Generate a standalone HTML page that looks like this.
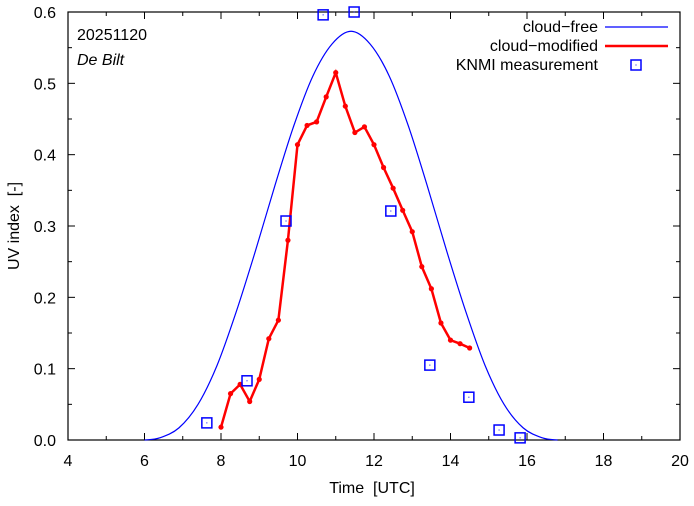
<!DOCTYPE html>
<html><head><meta charset="utf-8"><style>
body{margin:0;background:#fff}
svg text{font-family:"Liberation Sans",sans-serif;font-size:16px;fill:#000;white-space:pre}
</style></head><body>
<svg id="chart" width="694" height="501" viewBox="0 0 694 501" xmlns="http://www.w3.org/2000/svg">
<rect x="68" y="12" width="612" height="428" fill="none" stroke="#000" stroke-width="1.2"/>
<g id="ticks"></g>
<text x="372" y="493" text-anchor="middle">Time  [UTC]</text>
<text transform="translate(19,226) rotate(-90)" text-anchor="middle">UV index  [-]</text>
<text x="77" y="40">20251120</text>
<text x="77" y="65" font-style="italic">De Bilt</text>
<g>
<g><text x="598" y="32" text-anchor="end">cloud−free</text><line x1="605" y1="27" x2="668" y2="27" stroke="#0000ff" stroke-width="1.2"/></g>
<g><text x="598" y="51" text-anchor="end">cloud−modified</text><line x1="605" y1="46" x2="668" y2="46" stroke="#ff0000" stroke-width="2.5"/></g>
<g><text x="598" y="70" text-anchor="end">KNMI measurement</text><rect x="631" y="60" width="10" height="10" fill="none" stroke="#0000ff" stroke-width="1.5"/><rect x="635.5" y="64.5" width="1" height="1" fill="#0000ff"/></g>
</g>
<g id="series"></g>
</svg>
<script>
const clearTimes=[6.0,6.4,6.9,7.4,7.9,8.4,8.9,9.4,9.9,10.4,10.9,11.4,11.9,12.4,12.9,13.4,13.9,14.4,14.9,15.4,15.9,16.4,16.8];
const clearValues=[0,0.003,0.017,0.05,0.105,0.18,0.265,0.355,0.44,0.51,0.555,0.573,0.555,0.51,0.44,0.355,0.265,0.18,0.105,0.05,0.017,0.003,0];
const cloudTimes=[8.0,8.25,8.5,8.75,9.0,9.25,9.5,9.75,10.0,10.25,10.5,10.75,11.0,11.25,11.5,11.75,12.0,12.25,12.5,12.75,13.0,13.25,13.5,13.75,14.0,14.25,14.5];
const cloudValues=[0.018,0.065,0.078,0.054,0.085,0.142,0.168,0.28,0.414,0.441,0.446,0.481,0.515,0.468,0.431,0.439,0.414,0.382,0.353,0.322,0.292,0.243,0.212,0.164,0.14,0.135,0.129];
const measTimes=[7.63,8.68,9.70,10.67,11.48,12.44,13.46,14.48,15.27,15.82];
const measValues=[0.024,0.083,0.307,0.596,0.6,0.321,0.105,0.06,0.014,0.003];
const xTicks=[4,6,8,10,12,14,16,18,20];
const yTicks=[0.0,0.1,0.2,0.3,0.4,0.5,0.6];
const NS="http://www.w3.org/2000/svg";
const X=t=>68+(t-4)*612/16, Y=v=>440-v*428/0.6;
function mk(tag,attrs,parent){const e=document.createElementNS(NS,tag);for(const k in attrs)e.setAttribute(k,attrs[k]);parent.appendChild(e);return e;}
const tg=document.getElementById('ticks'), sg=document.getElementById('series');
for(let t=4;t<=20;t+=1){const major=t%2===0,L=major?7:4;
 mk('line',{x1:X(t),x2:X(t),y1:440,y2:440-L,stroke:'#000'},tg);
 mk('line',{x1:X(t),x2:X(t),y1:12,y2:12+L,stroke:'#000'},tg);}
xTicks.forEach(t=>{const e=mk('text',{x:X(t),y:466,'text-anchor':'middle'},tg);e.textContent=t;
 
 });
for(let i=0;i<=12;i++){const v=i*0.05,L=i%2===0?7:4;
 mk('line',{x1:68,x2:68+L,y1:Y(v),y2:Y(v),stroke:'#000'},tg);
 mk('line',{x1:680,x2:680-L,y1:Y(v),y2:Y(v),stroke:'#000'},tg);}
yTicks.forEach(v=>{const e=mk('text',{x:56,y:Y(v)+6,'text-anchor':'end'},tg);e.textContent=v.toFixed(1);
 
 });
const P=clearTimes.map((t,i)=>[X(t),Y(clearValues[i])]);
let d=`M${P[0][0]},${P[0][1]}`;
for(let i=0;i<P.length-1;i++){const p0=P[i-1]||P[i],p1=P[i],p2=P[i+1],p3=P[i+2]||P[i+1];
 d+=` C${p1[0]+(p2[0]-p0[0])/6},${p1[1]+(p2[1]-p0[1])/6} ${p2[0]-(p3[0]-p1[0])/6},${p2[1]-(p3[1]-p1[1])/6} ${p2[0]},${p2[1]}`;}
const cf=mk('path',{d:d,fill:'none',stroke:'#0000ff','stroke-width':1.2},sg);


const cm=mk('polyline',{points:cloudTimes.map((t,i)=>X(t)+','+Y(cloudValues[i])).join(' '),fill:'none',stroke:'#ff0000','stroke-width':2.5},sg);


cloudTimes.forEach((t,i)=>{const c=mk('circle',{cx:X(t),cy:Y(cloudValues[i]),r:2.6,fill:'#ff0000'},sg);
 
 });
measTimes.forEach((t,i)=>{const x=X(t),y=Y(measValues[i]);
 const r=mk('rect',{x:x-5,y:y-5,width:10,height:10,fill:'none',stroke:'#0000ff','stroke-width':1.5},sg);
 
 
 mk('rect',{x:x-0.5,y:y-0.5,width:1,height:1,fill:'#0000ff'},sg);});
</script>
</body></html>
